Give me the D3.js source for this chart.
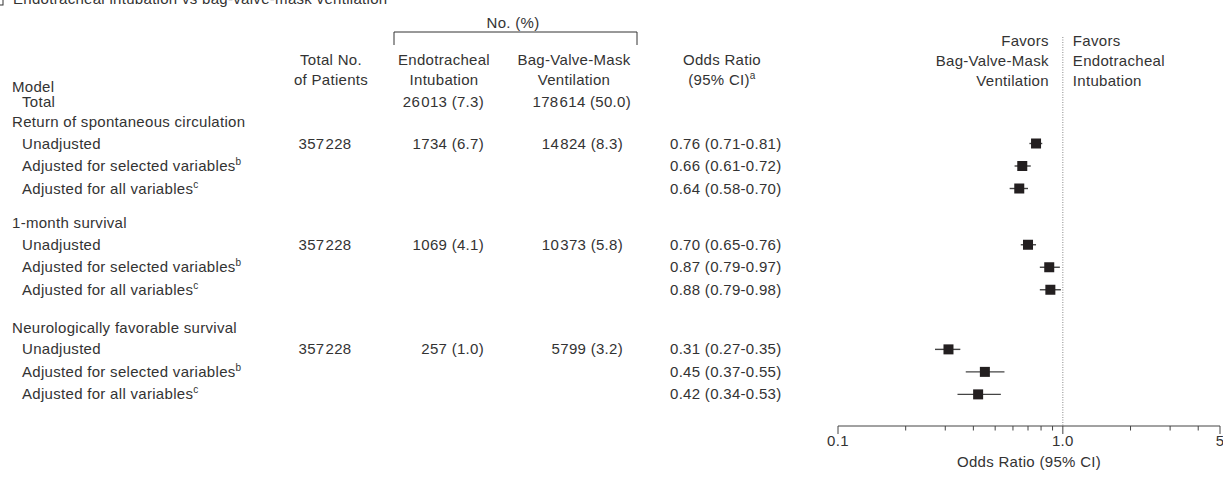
<!DOCTYPE html>
<html>
<head>
<meta charset="utf-8">
<script src="https://cdn.jsdelivr.net/npm/d3@7"></script>
<style>
  body { margin: 0; background: #fff; }
  text { font-family: "Liberation Sans", Arial, sans-serif; font-size: 15px; letter-spacing: 0.3px; fill: #333; }
</style>
</head>
<body>
<script>
// data
const groups = ["Return of spontaneous circulation", "1-month survival", "Neurologically favorable survival"];
const models = ["Unadjusted", "Adjusted for selected variables", "Adjusted for all variables"];
const modelNotes = ["", "b", "c"];
const totalPatients = ["357\u2009228", "357\u2009228", "357\u2009228"];
const etiCounts = ["1734 (6.7)", "1069 (4.1)", "257 (1.0)"];
const bvmCounts = ["14\u2009824 (8.3)", "10\u2009373 (5.8)", "5799 (3.2)"];
const etiTotal = "26\u2009013 (7.3)";
const bvmTotal = "178\u2009614 (50.0)";
const oddsRatio = [0.76, 0.66, 0.64, 0.70, 0.87, 0.88, 0.31, 0.45, 0.42];
const ciLow     = [0.71, 0.61, 0.58, 0.65, 0.79, 0.79, 0.27, 0.37, 0.34];
const ciHigh    = [0.81, 0.72, 0.70, 0.76, 0.97, 0.98, 0.35, 0.55, 0.53];
const minorTicks = [0.2, 0.3, 0.4, 0.5, 0.6, 0.7, 0.8, 0.9, 2, 3, 4];
const majorTicks = [0.1, 1, 5];
const majorLabels = ["0.1", "1.0", "5"];

const width = 1223, height = 481;

const svg = d3.select("body").append("svg")
    .attr("width", width)
    .attr("height", height);

// scales
const x = d3.scaleLog().domain([0.1, 5]).range([838, 1220]);
// line index -> vertical position (one line = 22.5px)
const y = d3.scaleLinear().domain([0, 1]).range([143.5, 166]);
const groupStart = [0, 4.5, 9.15];

// numbers use a thin gap between thousands
function numText(sel, s) {
    const parts = s.split("\u2009");
    parts.forEach(function (p, i) {
        if (i > 0) sel.append("tspan").style("font-size", "4px").style("letter-spacing", "0px").text(" ");
        sel.append("tspan").text(p);
    });
}

// flatten rows
const rows = [];
groups.forEach(function (g, gi) {
    models.forEach(function (m, mi) {
        const k = gi * 3 + mi;
        rows.push({
            group: gi, model: m, note: modelNotes[mi],
            line: groupStart[gi] + mi,
            total: mi === 0 ? totalPatients[gi] : "",
            eti: mi === 0 ? etiCounts[gi] : "",
            bvm: mi === 0 ? bvmCounts[gi] : "",
            or: oddsRatio[k], lo: ciLow[k], hi: ciHigh[k]
        });
    });
});

// panel title (cut off at the top in the original)
svg.append("rect")
    .attr("x", -20).attr("y", -16)
    .attr("width", 23).attr("height", 21)
    .style("fill", "none").style("stroke", "#333");
svg.append("text")
    .attr("x", 13).attr("y", 4)
    .text("Endotracheal intubation vs bag-valve-mask ventilation");

// column headers
svg.append("text").attr("x", 513).attr("y", 28).attr("text-anchor", "middle").text("No. (%)");
svg.append("path")
    .attr("d", "M394,45V32H637V45")
    .style("fill", "none").style("stroke", "#333");

const headers = [
    {x: 331, lines: ["Total No.", "of Patients"]},
    {x: 444, lines: ["Endotracheal", "Intubation"]},
    {x: 574, lines: ["Bag-Valve-Mask", "Ventilation"]},
    {x: 722, lines: ["Odds Ratio", "(95% CI)"]}
];
headers.forEach(function (h) {
    h.lines.forEach(function (l, i) {
        const t = svg.append("text")
            .attr("x", h.x).attr("y", 65 + i * 20)
            .attr("text-anchor", "middle")
            .text(l);
        if (l === "(95% CI)") {
            t.append("tspan").attr("dy", -6).style("font-size", "10px").text("a");
        }
    });
});
svg.append("text").attr("x", 12).attr("y", 92).text("Model");

// total row
svg.append("text").attr("x", 22).attr("y", 107).text("Total");
svg.append("text").attr("x", 484).attr("y", 107).attr("text-anchor", "end").call(numText, etiTotal);
svg.append("text").attr("x", 631).attr("y", 107).attr("text-anchor", "end").call(numText, bvmTotal);

// favors labels
["Favors", "Bag-Valve-Mask", "Ventilation"].forEach(function (l, i) {
    svg.append("text").attr("x", x(1) - 14).attr("y", 46 + i * 20)
        .attr("text-anchor", "end").text(l);
});
["Favors", "Endotracheal", "Intubation"].forEach(function (l, i) {
    svg.append("text").attr("x", x(1) + 10).attr("y", 46 + i * 20).text(l);
});

// group labels
svg.selectAll(".groupLabel")
    .data(groups)
    .enter()
    .append("text")
        .attr("class", "groupLabel")
        .attr("x", 12)
        .attr("y", function (d, i) { return y(groupStart[i] - 0.95) + 5; })
        .text(function (d) { return d; });

// row texts
const rowG = svg.selectAll(".row")
    .data(rows)
    .enter()
    .append("g")
        .attr("class", "row")
        .attr("transform", function (d) { return "translate(0," + (y(d.line) + 5) + ")"; });

rowG.append("text")
    .attr("x", 22)
    .text(function (d) { return d.model; })
    .append("tspan")
        .attr("dy", -6)
        .style("font-size", "10px")
        .text(function (d) { return d.note; });
rowG.append("text").attr("x", 325).attr("text-anchor", "middle")
    .each(function (d) { numText(d3.select(this), d.total); });
rowG.append("text").attr("x", 484).attr("text-anchor", "end")
    .each(function (d) { numText(d3.select(this), d.eti); });
rowG.append("text").attr("x", 623).attr("text-anchor", "end")
    .each(function (d) { numText(d3.select(this), d.bvm); });
rowG.append("text").attr("x", 670)
    .text(function (d) { return d.or.toFixed(2) + " (" + d.lo.toFixed(2) + "-" + d.hi.toFixed(2) + ")"; });

// reference line at OR = 1
svg.append("line")
    .attr("x1", x(1)).attr("x2", x(1))
    .attr("y1", 37).attr("y2", 426)
    .style("stroke", "#888")
    .style("stroke-width", 1)
    .style("stroke-dasharray", "1,1.5");

// confidence intervals
svg.selectAll(".ci")
    .data(rows)
    .enter()
    .append("line")
        .attr("class", "ci")
        .attr("x1", function (d) { return x(d.lo); })
        .attr("x2", function (d) { return x(d.hi); })
        .attr("y1", function (d) { return y(d.line); })
        .attr("y2", function (d) { return y(d.line); })
        .style("stroke", "#444")
        .style("stroke-width", 1.4);

// point estimates
svg.selectAll(".pt")
    .data(rows)
    .enter()
    .append("rect")
        .attr("class", "pt")
        .attr("x", function (d) { return x(d.or) - 5; })
        .attr("y", function (d) { return y(d.line) - 5; })
        .attr("width", 10)
        .attr("height", 10)
        .style("fill", "#231f20");

// x axis
const axisY = 426;
const axisG = svg.append("g").attr("transform", "translate(0," + axisY + ")");
axisG.append("line")
    .attr("x1", x(0.1)).attr("x2", x(5))
    .style("stroke", "#444");
axisG.selectAll(".minor")
    .data(minorTicks)
    .enter()
    .append("line")
        .attr("x1", function (d) { return x(d); })
        .attr("x2", function (d) { return x(d); })
        .attr("y2", 4.5)
        .style("stroke", "#444");
axisG.selectAll(".major")
    .data(majorTicks)
    .enter()
    .append("line")
        .attr("x1", function (d) { return x(d); })
        .attr("x2", function (d) { return x(d); })
        .attr("y2", 8)
        .style("stroke", "#444");
axisG.selectAll(".tickLabel")
    .data(majorTicks)
    .enter()
    .append("text")
        .attr("x", function (d) { return x(d); })
        .attr("y", 20)
        .attr("text-anchor", "middle")
        .text(function (d, i) { return majorLabels[i]; });
axisG.append("text")
    .attr("x", (x(0.1) + x(5)) / 2)
    .attr("y", 41)
    .attr("text-anchor", "middle")
    .text("Odds Ratio (95% CI)");
</script>
</body>
</html>
